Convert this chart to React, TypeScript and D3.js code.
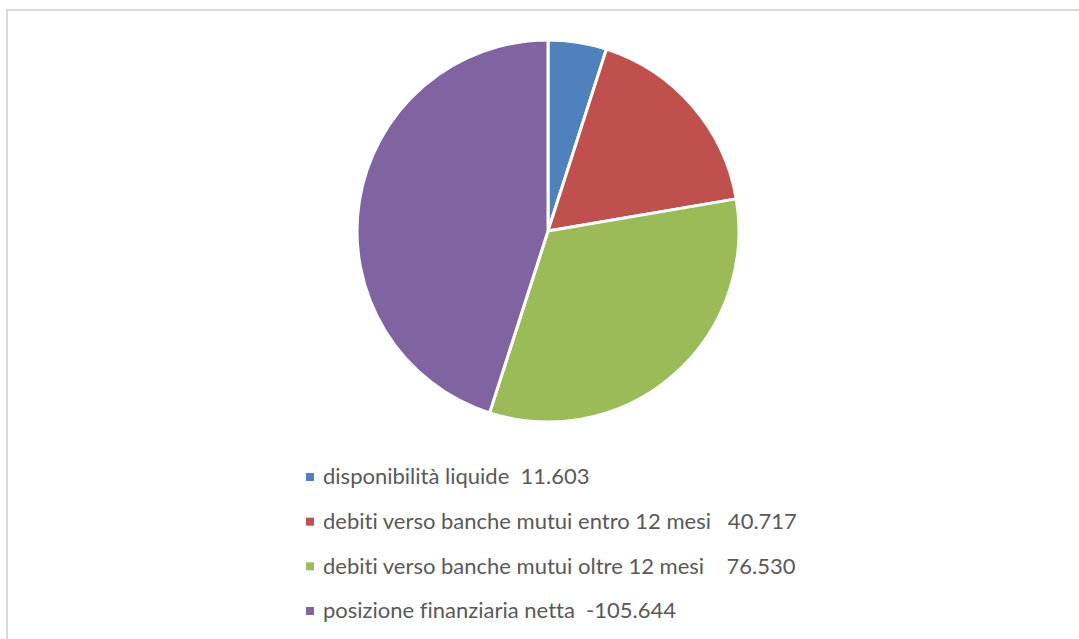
import React from "react";
import * as d3 from "d3";

const categories = [
  "disponibilità liquide  11.603",
  "debiti verso banche mutui entro 12 mesi   40.717",
  "debiti verso banche mutui oltre 12 mesi    76.530",
  "posizione finanziaria netta  -105.644",
];
const values = [11.603, 40.717, 76.53, 105.644];
const colors = ["#4F81BD", "#C0504D", "#9BBB59", "#8064A2"];

export default function App() {
  const W = 1079, H = 639;
  const cx = 548, cy = 231, r = 191;
  const pie = d3.pie<number>().sort(null).value((d) => d)(values);
  const arc = d3.arc<d3.PieArcDatum<number>>().innerRadius(0).outerRadius(r);
  const legendY = d3.scaleLinear().domain([0, 3]).range([477, 611]);
  return (
    <svg width={W} height={H} style={{ position: "absolute", left: 0, top: 0 }}>
      <rect x={0} y={0} width={W} height={H} fill="#fff" />
      <rect x={7} y={10} width={W + 20} height={H + 20} fill="#fff" stroke="#d9d9d9" strokeWidth={2} />
      <g transform={`translate(${cx},${cy})`}>
        {pie.map((p, i) => (
          <path key={i} d={arc(p) || ""} fill={colors[i]} stroke="#fff" strokeWidth={3} strokeLinejoin="round" />
        ))}
      </g>
      {categories.map((c, i) => (
        <g key={i} transform={`translate(0,${legendY(i)})`}>
          <rect x={306} y={-4} width={8} height={8} fill={colors[i]} />
          <text
            x={323}
            y={0}
            dy="0.33em"
            fontFamily="Lato, 'Open Sans', sans-serif"
            fontSize={22}
            fill="#595959"
            style={{ whiteSpace: "pre", fontVariantLigatures: "none" }}
          >
            {c}
          </text>
        </g>
      ))}
    </svg>
  );
}
